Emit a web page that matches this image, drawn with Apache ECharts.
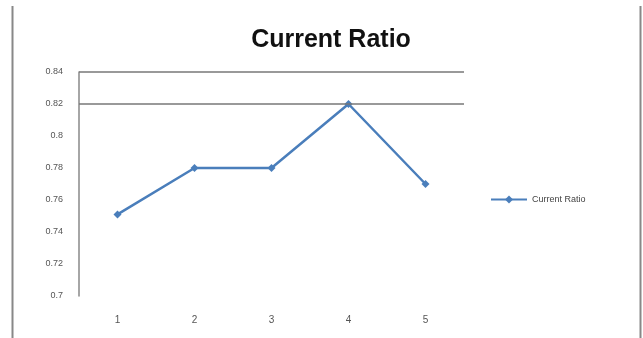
<!DOCTYPE html>
<html>
<head>
<meta charset="utf-8">
<script src="https://cdn.jsdelivr.net/npm/echarts@6/dist/echarts.min.js"></script>
<style>
  html, body { margin: 0; padding: 0; background: #fff; }
  #chart { width: 643px; height: 338px; }
</style>
</head>
<body>
<div id="chart"></div>
<script>
// Current ratio by period
const periods = ['1', '2', '3', '4', '5'];
const currentRatio = [0.751, 0.78, 0.78, 0.82, 0.77];
const yTicks = [0.7, 0.72, 0.74, 0.76, 0.78, 0.8, 0.82, 0.84];
const referenceLines = [0.82, 0.84];

const chart = echarts.init(document.getElementById('chart'), null, { renderer: 'canvas' });

chart.setOption({
  animation: false,
  backgroundColor: '#ffffff',
  title: {
    text: 'Current Ratio',
    left: 326,
    top: 23,
    textAlign: 'center',
    textStyle: {
      fontFamily: 'Liberation Sans',
      fontWeight: 'bold',
      fontSize: 25,
      color: '#111'
    }
  },
  legend: {
    data: ['Current Ratio'],
    left: 485,
    top: 190,
    padding: 5,
    itemWidth: 36,
    itemHeight: 10,
    itemGap: 4,
    textStyle: { fontFamily: 'Liberation Sans', fontSize: 9, color: '#444' }
  },
  grid: { left: 79, right: 179, top: 72, bottom: 42, containLabel: false },
  xAxis: {
    type: 'category',
    data: periods,
    boundaryGap: true,
    axisLine: { show: false },
    axisTick: { show: false },
    axisLabel: { margin: 19, fontFamily: 'Liberation Sans', fontSize: 10, color: '#555' }
  },
  yAxis: {
    type: 'value',
    min: yTicks[0],
    max: yTicks[yTicks.length - 1],
    interval: 0.02,
    axisLine: { show: true, lineStyle: { color: '#888', width: 1.5 } },
    axisTick: { show: false },
    splitLine: { show: false },
    axisLabel: {
      margin: 16,
      fontFamily: 'Liberation Sans',
      fontSize: 9,
      color: '#555',
      formatter: v => String(+v.toFixed(2))
    }
  },
  series: [{
    name: 'Current Ratio',
    type: 'line',
    data: currentRatio,
    symbol: 'diamond',
    symbolSize: 8,
    lineStyle: { color: '#4a7ebb', width: 2.5 },
    itemStyle: { color: '#4a7ebb' },
    markLine: {
      silent: true,
      symbol: 'none',
      label: { show: false },
      lineStyle: { color: '#777', width: 1.5, type: 'solid' },
      data: referenceLines.map(v => ({ yAxis: v }))
    }
  }],
  graphic: [
    { type: 'line', shape: { x1: 12.5, y1: 6, x2: 12.5, y2: 338 }, style: { stroke: '#888', lineWidth: 2 } },
    { type: 'line', shape: { x1: 640.5, y1: 6, x2: 640.5, y2: 338 }, style: { stroke: '#888', lineWidth: 2 } }
  ]
});
</script>
</body>
</html>
